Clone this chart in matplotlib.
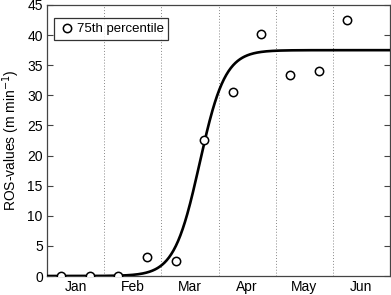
import numpy as np
import matplotlib
matplotlib.use("Agg")
import matplotlib.pyplot as plt

plt.rcParams['font.family'] = ['Liberation Sans', 'DejaVu Sans']

months = ["Jan", "Feb", "Mar", "Apr", "May", "Jun"]
obs_time = [0.25, 0.75, 1.25, 1.75, 2.25, 2.75, 3.25, 3.75, 4.25, 4.75, 5.25]
obs_ros = [0.0, 0.0, 0.0, 3.2, 2.5, 22.6, 30.6, 40.2, 33.4, 34.1, 42.5]
# fitted logistic curve parameters
fit_max = 37.5
fit_mid = 2.67
fit_rate = 4.5

fig = plt.figure(figsize=(3.91, 2.95), dpi=100)
ax = fig.add_axes([47/391, 19/295, 343/391, 271/295])

t = np.linspace(0, 6, 600)
curve = fit_max / (1 + np.exp(-fit_rate * (t - fit_mid)))
ax.plot(t, curve, color='black', lw=1.9, zorder=3)
ax.plot(obs_time, obs_ros, 'o', mfc='white', mec='black', mew=1.1, ms=6,
        label='75th percentile', zorder=4, linestyle='none')

ax.set_xlim(0, 6)
ax.set_ylim(0, 45)
for m in range(1, 6):
    ax.axvline(m, color='#888888', lw=0.7, ls=(0, (1, 2)), zorder=1)

ax.set_xticks([i + 0.5 for i in range(6)])
ax.set_xticklabels(months)
ax.tick_params(axis='x', length=0, labelsize=10, pad=3)
ax.set_yticks(range(0, 46, 5))
ax.tick_params(axis='y', direction='in', length=4, right=True, labelsize=10,
               color='#444444', pad=3)
for s in ax.spines.values():
    s.set_color('#444444')
    s.set_linewidth(0.9)

ax.set_ylabel('ROS-values (m min$^{-1}$)', fontsize=10, labelpad=4)
leg = ax.legend(loc='upper left', fontsize=9.5, frameon=True, fancybox=False,
                edgecolor='black', handletextpad=0.1, handlelength=1.3,
                borderpad=0.35, bbox_to_anchor=(0.0, 0.975))
leg.get_frame().set_linewidth(0.9)

fig.savefig('out.png', dpi=100)
